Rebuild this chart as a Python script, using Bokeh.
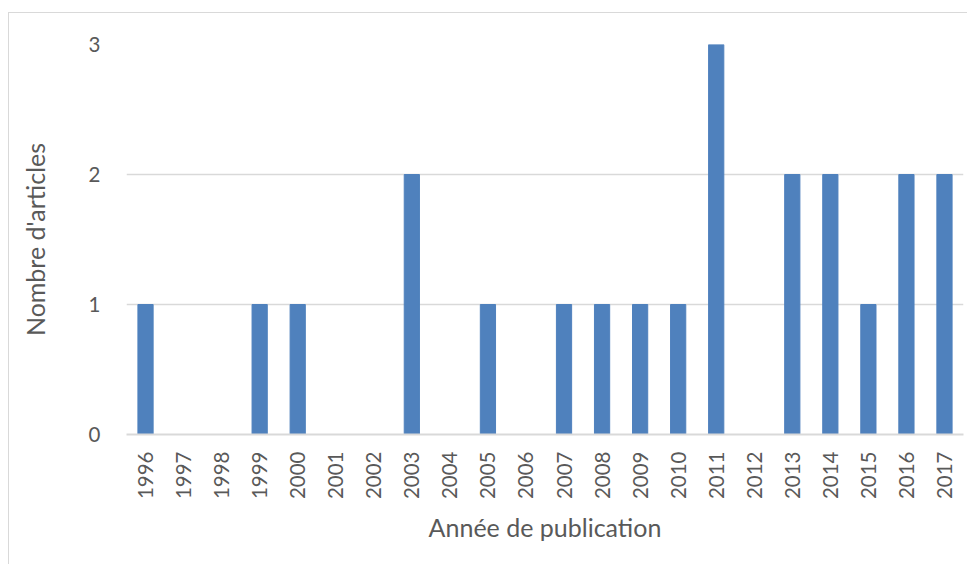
import math
from bokeh.plotting import figure
from bokeh.models import Range1d, FixedTicker
from bokeh.embed import file_html
from bokeh.resources import INLINE

years = ["1996", "1997", "1998", "1999", "2000", "2001", "2002", "2003", "2004", "2005", "2006",
         "2007", "2008", "2009", "2010", "2011", "2012", "2013", "2014", "2015", "2016", "2017"]
counts = [1, 0, 0, 1, 1, 0, 0, 2, 0, 1, 0, 1, 1, 1, 1, 3, 0, 2, 2, 1, 2, 2]
y_ticks = [0, 1, 2, 3]

FONT = "Lato"
TXT = "#595959"
GRID = "#d9d9d9"

p = figure(x_range=years, y_range=Range1d(0, 3), width=959, height=552,
           output_backend="svg", toolbar_location=None,
           min_border_left=117, min_border_right=5, min_border_top=31, min_border_bottom=131)
p.margin = (12, 0, 0, 8)
p.styles = {"border-top": "1px solid #d9d9d9", "border-left": "1px solid #d9d9d9"}
p.outline_line_color = None

p.vbar(x=years, top=counts, width=0.4, color="#4f81bd")

p.xgrid.grid_line_color = None
p.ygrid.grid_line_color = GRID
p.ygrid.grid_line_width = 1.5
p.yaxis.ticker = FixedTicker(ticks=y_ticks)

for ax in (p.xaxis, p.yaxis):
    ax.major_tick_line_color = None
    ax.minor_tick_line_color = None
    ax.major_label_text_font = FONT
    ax.major_label_text_color = TXT
    ax.major_label_text_font_size = "20.5px"
    ax.axis_label_text_font = FONT
    ax.axis_label_text_color = TXT
    ax.axis_label_text_font_size = "25px"
    ax.axis_label_text_font_style = "normal"

p.yaxis.axis_line_color = None
p.yaxis.major_label_standoff = 20
p.yaxis.axis_label = "Nombre d'articles"
p.yaxis.axis_label_standoff = 36

p.xaxis.axis_line_color = GRID
p.xaxis.axis_line_width = 2
p.xaxis.major_label_orientation = math.pi / 2
p.xaxis.major_label_standoff = 11
p.xaxis.axis_label = "Année de publication"
p.xaxis.axis_label_standoff = 10

open("out.html", "w").write(file_html(p, INLINE))
